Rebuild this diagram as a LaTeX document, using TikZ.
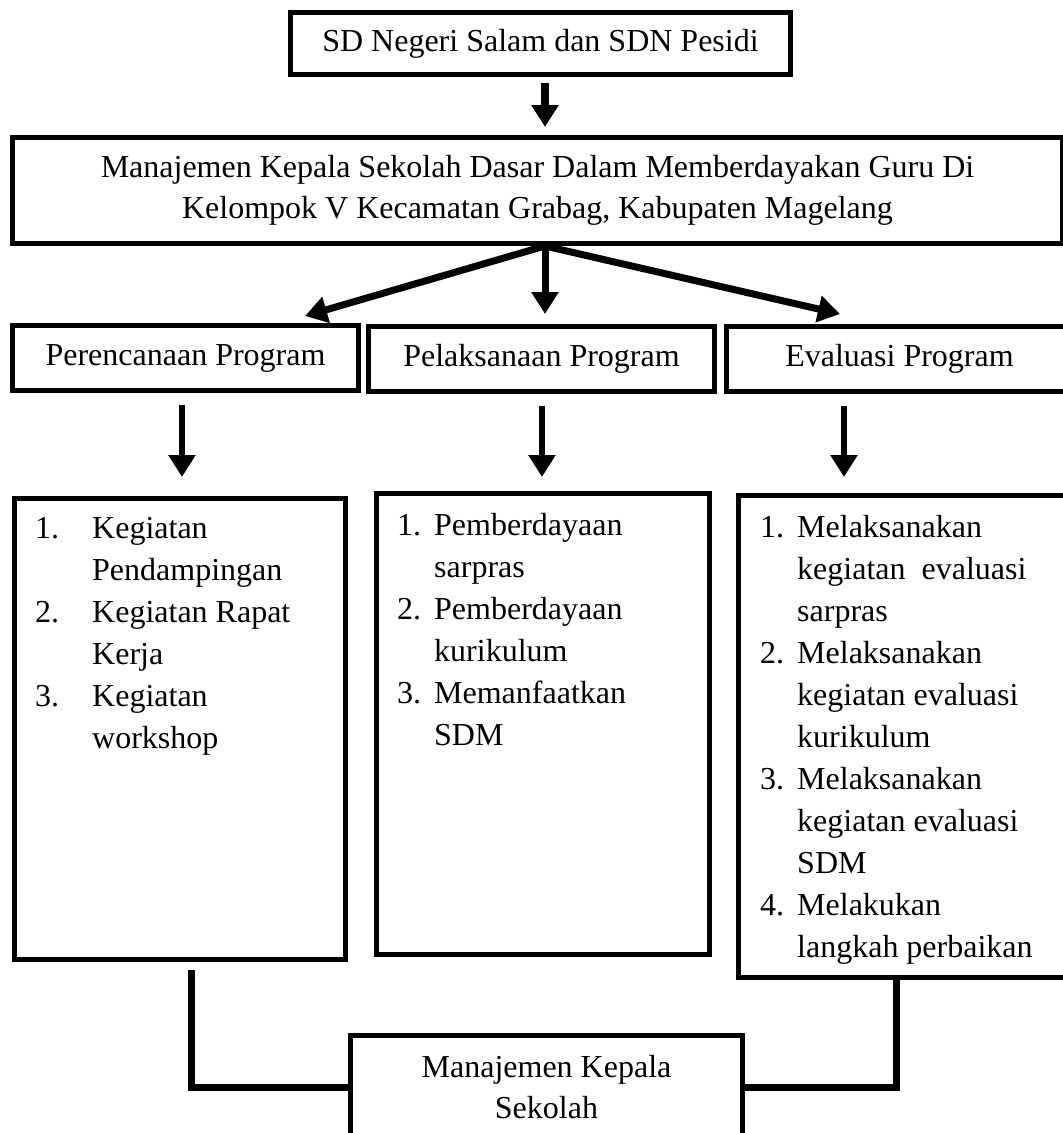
\documentclass[tikz,border=0pt]{standalone}
\usepackage{fontspec}
\setmainfont{Liberation Serif}
\usetikzlibrary{arrows.meta}
\newcommand*\boxfont{\fontsize{32pt}{41pt}\selectfont}
\newcommand*\listfont{\fontsize{32pt}{42pt}\selectfont}
\tikzset{box/.style 2 args={
    draw,
    line width=5pt,
    rectangle,
    anchor=north west,
    inner sep=0pt,
    minimum width=#1,
    minimum height=#2,
    font=\boxfont,
    align=center
},
arr/.style={line width=7pt, -{Triangle[width=26pt,length=22pt]}},
link/.style={line width=7pt},
items/.style={anchor=base west, inner sep=0pt, font=\listfont}}

\begin{document}
\begin{tikzpicture}[x=1pt,y=-1pt]
    \useasboundingbox (0,0) rectangle (1063,1133);

    % First the two boxes at the top.
    \node[box={500pt}{62pt}] (sd) at (288,10) {SD Negeri Salam dan SDN Pesidi};
    \node[box={1050pt}{106pt}] (title) at (10,135)
        {Manajemen Kepala Sekolah Dasar Dalam Memberdayakan Guru Di\\
         Kelompok V Kecamatan Grabag, Kabupaten Magelang};

    % The three program boxes.
    \node[box={346pt}{65pt}] (plan) at (10,323) {Perencanaan Program};
    \node[box={346pt}{65pt}] (run) at (366,324) {Pelaksanaan Program};
    \node[box={346pt}{65pt}] (eval) at (724,324) {Evaluasi Program};

    % The list boxes under them.
    \node[box={331pt}{461pt}] (planlist) at (12,496) {};
    \node[box={333pt}{461pt}] (runlist) at (374,491) {};
    \node[box={334pt}{482pt}] (evallist) at (736,493) {};

    % The box at the bottom.
    \node[box={392pt}{104pt}] (head) at (348,1033) {Manajemen Kepala\\Sekolah};

    % Write the lists.
    \node[items] (plantext) at (35,538) {\begin{tabular}[t]{@{}p{57pt}@{}l@{}}
        1. & Kegiatan\\ & Pendampingan\\
        2. & Kegiatan Rapat\\ & Kerja\\
        3. & Kegiatan\\ & workshop
    \end{tabular}};
    \node[items] (runtext) at (397,535) {\begin{tabular}[t]{@{}p{37pt}@{}l@{}}
        1. & Pemberdayaan\\ & sarpras\\
        2. & Pemberdayaan\\ & kurikulum\\
        3. & Memanfaatkan\\ & SDM
    \end{tabular}};
    \begin{scope}
        \clip (evallist.north west) rectangle ([yshift=15pt]evallist.south east);
        \node[items] (evaltext) at (760,537) {\begin{tabular}[t]{@{}p{37pt}@{}l@{}}
            1. & Melaksanakan\\ & kegiatan~ evaluasi\\ & sarpras\\
            2. & Melaksanakan\\ & kegiatan evaluasi\\ & kurikulum\\
            3. & Melaksanakan\\ & kegiatan evaluasi\\ & SDM\\
            4. & Melakukan\\ & langkah perbaikan
        \end{tabular}};
    \end{scope}

    % Some helper points for the arrows.
    \coordinate (split) at (545,246);
    \coordinate (tipl) at (305,316);
    \coordinate (tipr) at (840,314);
    \coordinate (d1) at (182,0);
    \coordinate (d2) at (542,0);
    \coordinate (d3) at (844,0);
    \coordinate (lc) at (191,0);
    \coordinate (rc) at (896,0);

    % Draw the arrows.
    \draw[arr, line width=7.5pt, shorten <=6pt, shorten >=8pt] (sd.south -| split) -- (split |- title.north);
    \draw[arr] (split) -- (tipl);
    \draw[arr, shorten >=10pt] (split) -- (split |- run.north);
    \draw[arr] (split) -- (tipr);
    \foreach \d/\a/\b/\s in {d1/plan/planlist/19, d2/run/runlist/14, d3/eval/evallist/16}
        \draw[arr, line width=6.5pt, shorten <=12pt, shorten >=\s pt] (\a.south -| \d) -- (\b.north -| \d);

    % Join the lists to the bottom box.
    \draw[link, shorten <=8pt] (planlist.south -| lc) |- (head.west);
    \draw[link] (evallist.south -| rc) |- (head.east);

\end{tikzpicture}
\end{document}
